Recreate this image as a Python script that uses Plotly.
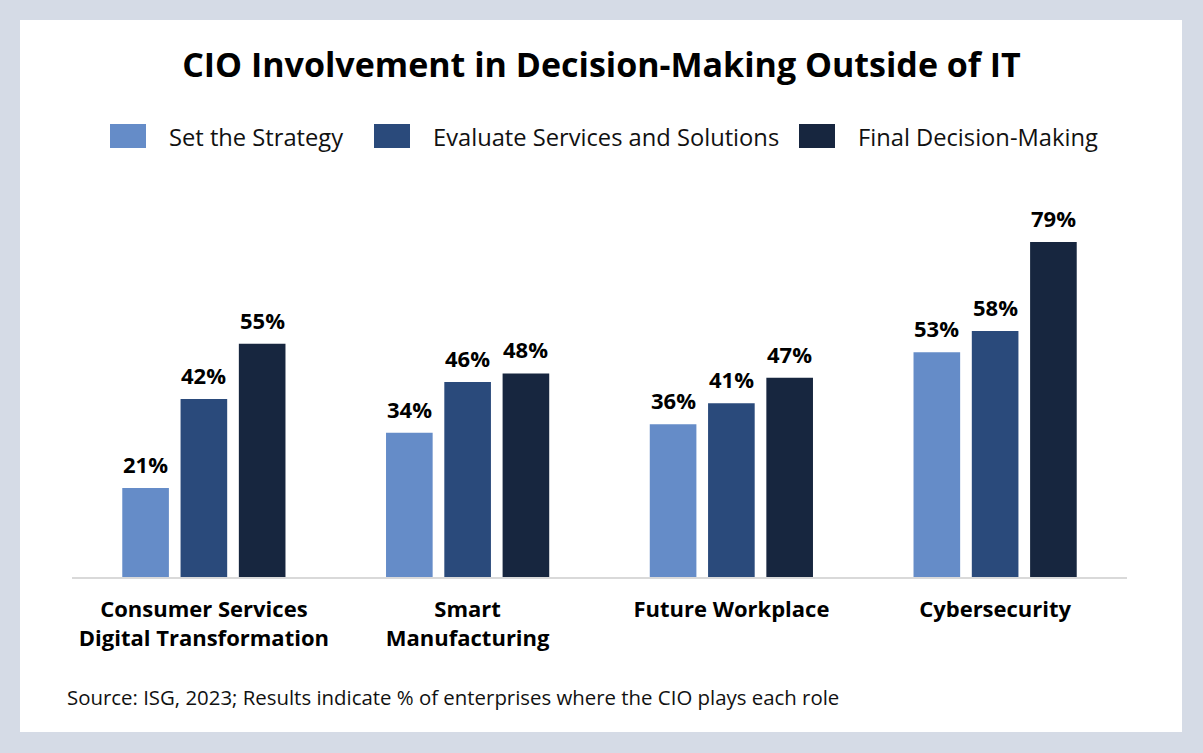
import plotly.graph_objects as go

# data
categories = ["Consumer Services<br>Digital Transformation", "Smart<br>Manufacturing",
              "Future Workplace", "Cybersecurity"]
series_names = ["Set the Strategy", "Evaluate Services and Solutions", "Final Decision-Making"]
set_strategy = [21, 34, 36, 53]
evaluate_services = [42, 46, 41, 58]
final_decision = [55, 48, 47, 79]
colors = ["#658cc8", "#2a4a7b", "#17263f"]

W, H = 1203, 753
L, R, T, B = 72, 76, 200, 176
pw, ph = W - L - R, H - T - B
slot = pw / len(categories) * (1 - 0.337) / 3  # width of one bar slot in px


def px_x(x):
    return (x - L) / pw


def px_y(y):
    return (H - B - y) / ph


fig = go.Figure()
annotations = []
for i, (name, vals, col) in enumerate(zip(series_names,
                                           [set_strategy, evaluate_services, final_decision], colors)):
    fig.add_trace(go.Bar(
        x=categories, y=vals, name=name, marker_color=col,
        marker_line_width=0, showlegend=False,
    ))
    # value labels sitting a little above each bar
    for c, v in zip(categories, vals):
        annotations.append(dict(x=c, y=v, xref="x", yref="y", text=f"{v}%",
                                showarrow=False, yanchor="bottom", xshift=(i - 1) * slot, yshift=7,
                                font=dict(family="Open Sans", size=22, color="#000000", weight="bold")))

# white card on the gray-blue frame
shapes = [dict(type="rect", xref="paper", yref="paper", layer="below",
               x0=px_x(20), x1=px_x(1182), y0=px_y(732), y1=px_y(20),
               fillcolor="white", line_width=0)]

# manual legend
legend_x = [110, 374, 799]
for name, col, lx in zip(series_names, colors, legend_x):
    shapes.append(dict(type="rect", xref="paper", yref="paper",
                       x0=px_x(lx), x1=px_x(lx + 36), y0=px_y(148), y1=px_y(124),
                       fillcolor=col, line_width=0))
    annotations.append(dict(x=px_x(lx + 57), y=px_y(137), xref="paper", yref="paper",
                            text=name, showarrow=False, xanchor="left", yanchor="middle",
                            font=dict(family="Open Sans", size=23.7, color="#111111")))

annotations.append(dict(x=px_x(65), y=px_y(697), xref="paper", yref="paper",
                        text="Source: ISG, 2023; Results indicate % of enterprises where the CIO plays each role",
                        showarrow=False, xanchor="left", yanchor="middle",
                        font=dict(family="Open Sans", size=20.4, color="#111111")))

fig.update_layout(
    width=W, height=H,
    margin=dict(l=L, r=R, t=T, b=B),
    paper_bgcolor="#d5dbe6", plot_bgcolor="white",
    title=dict(text="<b>CIO Involvement in Decision-Making Outside of IT</b>",
               x=0.5, xanchor="center", y=1 - 65 / H, yanchor="middle",
               font=dict(family="Open Sans", size=34, color="#000000")),
    barmode="group", bargap=0.337, bargroupgap=0.2,
    shapes=shapes, annotations=annotations,
    xaxis=dict(showline=True, linecolor="#d9d9d9", linewidth=2, ticks="",
               ticklabelstandoff=12,
               tickfont=dict(family="Open Sans", size=22, color="#000000", weight="bold"),
               showgrid=False),
    yaxis=dict(range=[0, ph / 4.24], visible=False, showgrid=False),
)

fig.write_html("out.html", config={"displayModeBar": False},
               post_script="document.body.style.margin='0';")
